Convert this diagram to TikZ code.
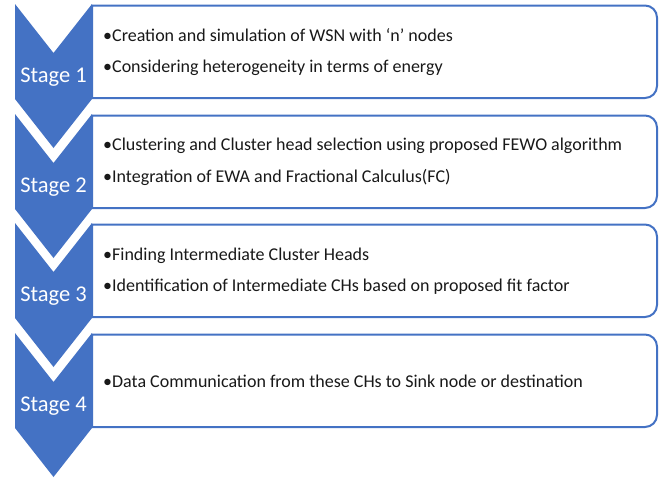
\documentclass[tikz,border=0pt]{standalone}
\usepackage{fontspec}
\setmainfont{Carlito}
\definecolor{stageblue}{HTML}{4472C4}

\tikzset{
  chevron/.style={fill=stageblue, draw=none},
  stagelabel/.style={text=white, inner sep=0pt, font=\fontsize{22.5}{27}\selectfont},
  listbox/.style={draw=stageblue, line width=2pt, fill=white},
  listtext/.style={anchor=west, align=left, inner sep=0pt, text=black!90, font=\fontsize{18}{31.5}\selectfont}
}

\begin{document}
\begin{tikzpicture}[x=1pt,y=-1pt]
\useasboundingbox (0,0) rectangle (662,479);

% stage 1
\draw[listbox] (92,5.5) -- (645,5.5) arc[start angle=-90,end angle=0,radius=12] -- (657,86) arc[start angle=0,end angle=90,radius=12] -- (92,98) -- cycle;
\fill[chevron] (15,4) -- (53.5,53) -- (92,4) -- (92,99) -- (53.5,148) -- (15,99) -- cycle;
\node[stagelabel] (stage1) at (53.5,77) {Stage 1};
\node[listtext] (items1) at (103,52) {•Creation and simulation of WSN with `n' nodes\\•Considering heterogeneity in terms of energy};

% stage 2
\draw[listbox] (92,115.5) -- (645,115.5) arc[start angle=-90,end angle=0,radius=12] -- (657,196) arc[start angle=0,end angle=90,radius=12] -- (92,208) -- cycle;
\fill[chevron] (15,114) -- (53.5,163) -- (92,114) -- (92,209) -- (53.5,258) -- (15,209) -- cycle;
\node[stagelabel] (stage2) at (53.5,187) {Stage 2};
\node[listtext] (items2) at (103,162) {•Clustering and Cluster head selection using proposed FEWO algorithm\\•Integration of EWA and Fractional Calculus(FC)};

% stage 3
\draw[listbox] (92,224.5) -- (645,224.5) arc[start angle=-90,end angle=0,radius=12] -- (657,305) arc[start angle=0,end angle=90,radius=12] -- (92,317) -- cycle;
\fill[chevron] (15,223) -- (53.5,272) -- (92,223) -- (92,318) -- (53.5,367) -- (15,318) -- cycle;
\node[stagelabel] (stage3) at (53.5,296) {Stage 3};
\node[listtext] (items3) at (103,271) {•Finding Intermediate Cluster Heads\\•Identification of Intermediate CHs based on proposed fit factor};

% stage 4
\draw[listbox] (92,334.5) -- (645,334.5) arc[start angle=-90,end angle=0,radius=12] -- (657,415) arc[start angle=0,end angle=90,radius=12] -- (92,427) -- cycle;
\fill[chevron] (15,333) -- (53.5,382) -- (92,333) -- (92,428) -- (53.5,477) -- (15,428) -- cycle;
\node[stagelabel] (stage4) at (53.5,406) {Stage 4};
\node[listtext] (items4) at (103,381) {•Data Communication from these CHs to Sink node or destination};
\end{tikzpicture}
\end{document}
